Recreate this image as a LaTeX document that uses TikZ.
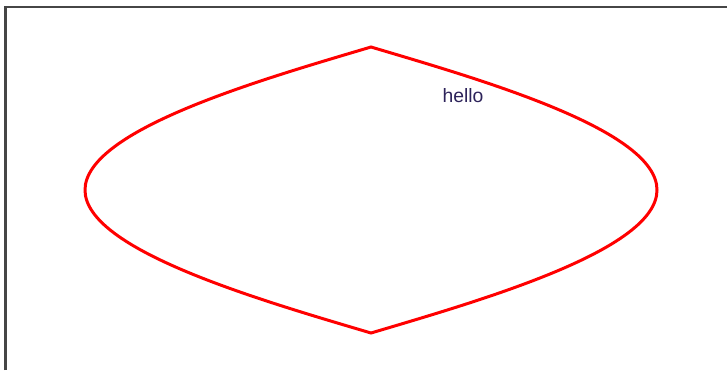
\documentclass[tikz,border=0pt]{standalone}
\usepackage{fontspec}
\setsansfont{Liberation Sans}
\usepackage{tikz}
\usetikzlibrary{positioning}
\definecolor{lensred}{RGB}{255,0,0}
\definecolor{framegray}{RGB}{70,70,70}
\definecolor{labelnavy}{RGB}{45,35,90}

\begin{document}
\begin{tikzpicture}[x=0.02cm,y=-0.02cm]
    \useasboundingbox (0,0) rectangle (727,370);
    % Frame, top and left edges only
    \draw[framegray,line width=1.4pt] (5.7,370) -- (5.7,7) -- (727,7);

    % Lens outline, pointed at top and bottom
    \draw[lensred,line width=1.7pt] (371,47)
      .. controls (260,80) and (85,130) .. (85,190)
      .. controls (85,250) and (260,300) .. (371,333)
      .. controls (482,300) and (657,250) .. (657,190)
      .. controls (657,130) and (482,80) .. cycle;

    % Label
    \node[font=\sffamily\fontsize{11}{13}\selectfont,text=labelnavy] (hello) at (463,96) {hello};
  \end{tikzpicture}
\end{document}
